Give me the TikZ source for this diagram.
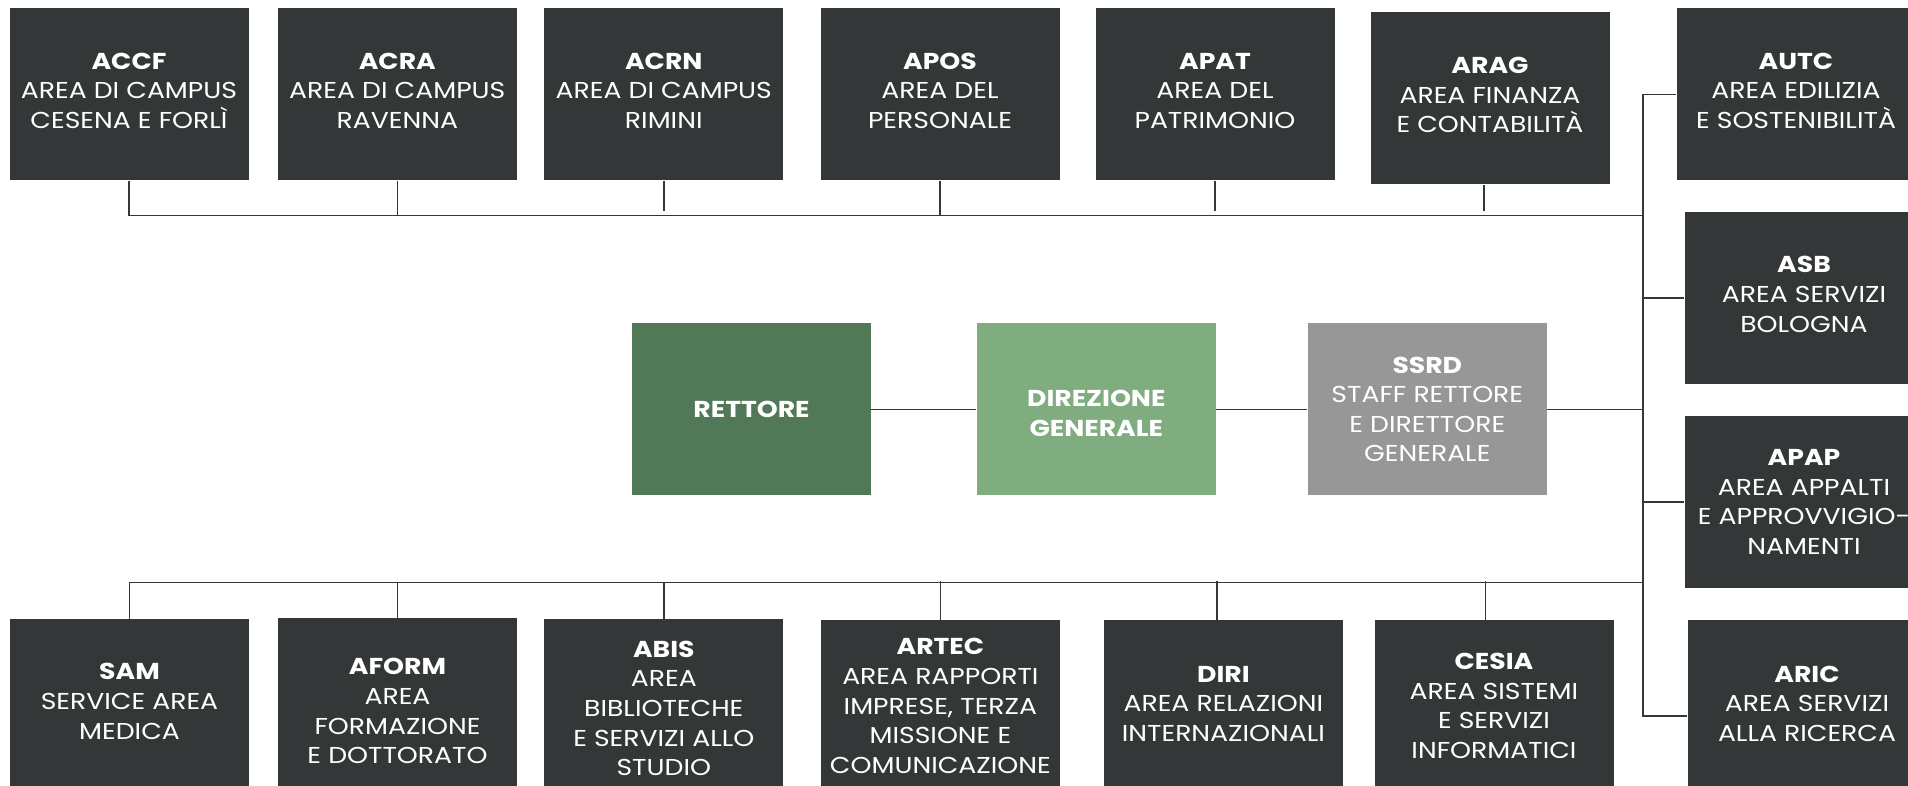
\documentclass[tikz,border=0pt]{standalone}
\usepackage{fontspec}
\setmainfont{Poppins}[FakeStretch=1.16]
\definecolor{boxdark}{RGB}{52,55,56}
\definecolor{rettgreen}{RGB}{82,121,87}
\definecolor{dirgreen}{RGB}{127,173,128}
\definecolor{staffgrey}{RGB}{151,151,152}
\definecolor{linecol}{RGB}{55,55,55}
\tikzset{
  orgbox/.style={rectangle, fill=boxdark, text=white, align=center, inner sep=0pt,
    minimum width=119.5pt, minimum height=86pt,
    font=\fontsize{11.5}{14.8}\selectfont},
  rettbox/.style={orgbox, fill=rettgreen},
  dirbox/.style={orgbox, fill=dirgreen},
  staffbox/.style={orgbox, fill=staffgrey},
  upA/.style={text depth=3.6pt},
  upB/.style={text depth=2.4pt},
  conn/.style={draw=linecol, line width=0.75pt}
}
\begin{document}
\begin{tikzpicture}[x=0.5pt, y=-0.5pt]
\useasboundingbox (0,0) rectangle (1908,786);
% top row
\node[orgbox, upA] (ACCF) at (129,94.3) {\textbf{ACCF}\\AREA DI CAMPUS\\CESENA E FORLÌ};
\node[orgbox, upA] (ACRA) at (397.3,94.3) {\textbf{ACRA}\\AREA DI CAMPUS\\RAVENNA};
\node[orgbox, upA] (ACRN) at (663.8,94.3) {\textbf{ACRN}\\AREA DI CAMPUS\\RIMINI};
\node[orgbox, upA] (APOS) at (940,94.3) {\textbf{APOS}\\AREA DEL\\PERSONALE};
\node[orgbox, upA] (APAT) at (1215,94.3) {\textbf{APAT}\\AREA DEL\\PATRIMONIO};
\node[orgbox, upA] (ARAG) at (1490,98.5) {\textbf{ARAG}\\AREA FINANZA\\E CONTABILITÀ};
% right column
\node[orgbox, upA] (AUTC) at (1796,94.3) {\textbf{AUTC}\\AREA EDILIZIA\\E SOSTENIBILITÀ};
\node[orgbox, upA] (ASB) at (1804,298) {\textbf{ASB}\\AREA SERVIZI\\BOLOGNA};
\node[orgbox] (APAP) at (1804,502) {\textbf{APAP}\\AREA APPALTI\\E APPROVVIGIO-\\NAMENTI};
\node[orgbox, upB] (ARIC) at (1807,706) {\textbf{ARIC}\\AREA SERVIZI\\ALLA RICERCA};
% middle
\node[rettbox] (RETT) at (751.5,409.4) {\textbf{RETTORE}};
\node[dirbox, text height=27pt] (DIR) at (1096.3,409.4) {\textbf{DIREZIONE}\\\textbf{GENERALE}};
\node[staffbox] (SSRD) at (1427.3,409.4) {\textbf{SSRD}\\STAFF RETTORE\\E DIRETTORE\\GENERALE};
% bottom row
\node[orgbox, upA] (SAM) at (129.5,705) {\textbf{SAM}\\SERVICE AREA\\MEDICA};
\node[orgbox, text height=59.7pt] (AFORM) at (397.5,704) {\textbf{AFORM}\\AREA\\FORMAZIONE\\E DOTTORATO};
\node[orgbox, text height=70.8pt] (ABIS) at (663.8,705) {\textbf{ABIS}\\AREA\\BIBLIOTECHE\\E SERVIZI ALLO\\STUDIO};
\node[orgbox] (ARTEC) at (940.4,706) {\textbf{ARTEC}\\AREA RAPPORTI\\IMPRESE, TERZA\\MISSIONE E\\COMUNICAZIONE};
\node[orgbox, upB] (DIRI) at (1223.4,706) {\textbf{DIRI}\\AREA RELAZIONI\\INTERNAZIONALI};
\node[orgbox] (CESIA) at (1494,706) {\textbf{CESIA}\\AREA SISTEMI\\E SERVIZI\\INFORMATICI};
% connector coordinates
\coordinate (trunktop) at (1643,94.3);
\coordinate (trunkbot) at (1643,716);
\coordinate (topline) at (1643,215.4);
\coordinate (botline) at (1643,582.7);
% trunk and right branches
\draw[conn] (AUTC.west) -- (AUTC.west -| trunktop) -- (trunkbot) -- (trunkbot -| ARIC.west);
\draw[conn] (ASB.west) -- (ASB.west -| trunktop);
\draw[conn] (APAP.west) -- (APAP.west -| trunktop);
% middle chain
\draw[conn] (RETT.east) -- (DIR.west);
\draw[conn] (DIR.east) -- (SSRD.west);
\draw[conn] (SSRD.east) -- (SSRD.east -| trunktop);
% top bus
\draw[conn] (ACCF.south) |- (topline);
\draw[conn] (ACRA.south) -- (ACRA.south |- topline);
\draw[conn] (ACRN.south) -- ([yshift=2pt]ACRN.south |- topline);
\draw[conn] (APOS.south) -- (APOS.south |- topline);
\draw[conn] (APAT.south) -- ([yshift=2pt]APAT.south |- topline);
\draw[conn] ([xshift=-3pt]ARAG.south) -- ([xshift=-3pt,yshift=2pt]ARAG.south |- topline);
% bottom bus
\draw[conn] (SAM.north) |- (botline);
\draw[conn] (AFORM.north) -- (AFORM.north |- botline);
\draw[conn] (ABIS.north) -- (ABIS.north |- botline);
\draw[conn] (ARTEC.north) -- ([yshift=1pt]ARTEC.north |- botline);
\draw[conn] ([xshift=-3.3pt]DIRI.north) -- ([xshift=-3.3pt,yshift=1pt]DIRI.north |- botline);
\draw[conn] ([xshift=-4.2pt]CESIA.north) -- ([xshift=-4.2pt,yshift=1pt]CESIA.north |- botline);
\end{tikzpicture}
\end{document}
